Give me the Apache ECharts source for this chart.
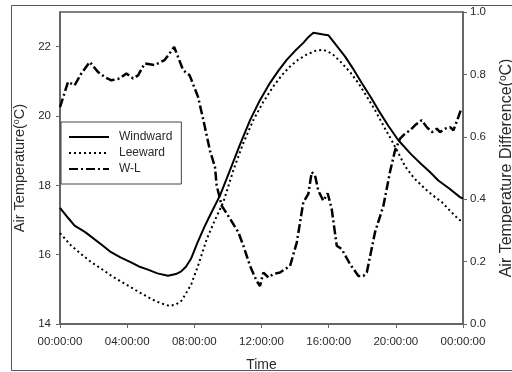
<!DOCTYPE html>
<html>
<head>
<meta charset="utf-8">
<script src="https://cdn.jsdelivr.net/npm/echarts@6/dist/echarts.min.js"></script>
<style>
  html, body { margin: 0; padding: 0; background: #fff; }
  #chart { width: 512px; height: 372px; }
</style>
</head>
<body>
<div id="chart"></div>
<script>
// hours since midnight, temperature in °C
const windwardHours = [0, 0.5, 0.87, 1.5, 1.85, 2.5, 3.04, 3.6, 4.23, 4.7, 5.24, 5.8, 6.43, 6.9, 7.2, 7.5, 7.8, 8.2, 8.6, 8.93, 9.53, 10.12, 10.7, 11.32, 11.9, 12.5, 13.0, 13.5, 14.0, 14.49, 14.8, 15.09, 15.35, 15.68, 15.98, 16.4, 16.97, 17.5, 17.97, 18.5, 18.96, 19.55, 20.15, 20.9, 21.54, 22.0, 22.53, 23.2, 23.82, 24];
const windwardTemp = [17.35, 17.05, 16.84, 16.65, 16.52, 16.28, 16.07, 15.92, 15.78, 15.66, 15.57, 15.46, 15.39, 15.44, 15.51, 15.65, 15.88, 16.36, 16.8, 17.13, 17.71, 18.43, 19.15, 19.88, 20.45, 20.95, 21.3, 21.62, 21.88, 22.11, 22.28, 22.4, 22.38, 22.35, 22.33, 22.07, 21.72, 21.33, 20.95, 20.55, 20.17, 19.72, 19.3, 18.9, 18.6, 18.4, 18.14, 17.9, 17.66, 17.62];

const leewardHours = [0, 0.67, 1.25, 1.87, 2.5, 3.06, 3.65, 4.25, 4.85, 5.44, 6.0, 6.53, 6.9, 7.23, 7.5, 7.82, 8.22, 8.74, 9.23, 9.73, 10.32, 10.9, 11.51, 12.1, 12.7, 13.2, 13.7, 14.2, 14.69, 15.2, 15.68, 16.2, 16.78, 17.3, 17.77, 18.25, 18.76, 19.25, 19.75, 20.15, 20.55, 21.1, 21.74, 22.23, 22.73, 23.2, 23.72, 24];
const leewardTemp = [16.62, 16.26, 16.02, 15.78, 15.58, 15.39, 15.22, 15.05, 14.88, 14.72, 14.6, 14.52, 14.56, 14.67, 14.88, 15.15, 15.68, 16.45, 17.0, 17.52, 18.43, 19.2, 19.88, 20.4, 20.85, 21.17, 21.43, 21.63, 21.77, 21.88, 21.91, 21.8, 21.53, 21.25, 20.95, 20.58, 20.17, 19.73, 19.3, 18.93, 18.55, 18.2, 17.9, 17.7, 17.52, 17.28, 17.03, 16.93];

// windward minus leeward, right axis
const diffHours = [0, 0.48, 0.87, 1.27, 1.77, 2.26, 2.7, 3.06, 3.55, 3.95, 4.35, 4.65, 5.04, 5.64, 6.23, 6.5, 6.8, 7.03, 7.33, 7.72, 8.22, 8.54, 8.93, 9.23, 9.33, 9.63, 10.13, 10.62, 10.92, 11.32, 11.71, 11.91, 12.11, 12.41, 12.7, 13.1, 13.7, 14.1, 14.49, 14.79, 14.99, 15.19, 15.38, 15.68, 15.94, 16.18, 16.48, 16.78, 17.27, 17.77, 18.07, 18.27, 18.76, 19.26, 19.65, 19.95, 20.25, 20.55, 20.85, 21.14, 21.54, 21.84, 22.14, 22.44, 22.63, 22.93, 23.23, 23.43, 23.72, 23.9];
const diffTemp = [0.695, 0.776, 0.765, 0.803, 0.84, 0.808, 0.79, 0.781, 0.787, 0.803, 0.787, 0.797, 0.835, 0.83, 0.846, 0.865, 0.888, 0.856, 0.814, 0.797, 0.728, 0.653, 0.556, 0.503, 0.444, 0.379, 0.337, 0.294, 0.251, 0.186, 0.138, 0.122, 0.165, 0.149, 0.16, 0.165, 0.186, 0.261, 0.39, 0.417, 0.487, 0.476, 0.428, 0.395, 0.419, 0.369, 0.251, 0.24, 0.192, 0.154, 0.154, 0.165, 0.294, 0.379, 0.487, 0.556, 0.594, 0.61, 0.621, 0.637, 0.653, 0.631, 0.615, 0.626, 0.615, 0.626, 0.631, 0.621, 0.663, 0.69];

const timeLabels = ['00:00:00', '04:00:00', '08:00:00', '12:00:00', '16:00:00', '20:00:00', '00:00:00'];

const zip = (xs, ys) => xs.map((x, i) => [x, ys[i]]);

const font = '"Liberation Sans", Arial, sans-serif';
const axisGray = '#666';
const textColor = '#2a2a2a';

const chart = echarts.init(document.getElementById('chart'));

chart.setOption({
  animation: false,
  textStyle: { fontFamily: font },
  graphic: [{
    type: 'rect',
    shape: { x: 11.5, y: 5.5, width: 510, height: 365 },
    style: { fill: 'none', stroke: '#555', lineWidth: 1 },
    silent: true
  }],
  grid: {
    left: 60, top: 12, right: 49, bottom: 48,
    outerBoundsMode: 'none', containLabel: false,
    show: true, borderColor: '#000', borderWidth: 1
  },
  legend: {
    left: 61, top: 122, orient: 'vertical',
    padding: [9, 9, 9, 7],
    itemWidth: 40, itemHeight: 12, itemGap: 4,
    borderColor: '#444', borderWidth: 1,
    itemStyle: { opacity: 0 },
    textStyle: { fontSize: 12, color: textColor, padding: [0, 0, 0, 5] },
    data: ['Windward', 'Leeward', 'W-L']
  },
  xAxis: {
    type: 'value', min: 0, max: 24, interval: 4,
    name: 'Time', nameLocation: 'middle', nameGap: 34,
    nameTextStyle: { fontSize: 14, color: textColor },
    axisLine: { lineStyle: { color: axisGray, width: 2 } },
    axisTick: { length: 4, lineStyle: { color: axisGray } },
    axisLabel: { fontSize: 11.5, color: textColor, margin: 12, formatter: v => timeLabels[v / 4] },
    splitLine: { show: false }
  },
  yAxis: [{
    type: 'value', min: 14, max: 23, interval: 2,
    name: 'Air Temperature({sup|o}C)', nameLocation: 'middle', nameGap: 31, nameRotate: 90,
    nameTextStyle: { fontSize: 14.5, color: textColor, rich: { sup: { fontSize: 9, padding: [0, 0, 7, 0] } } },
    axisLine: { show: true, lineStyle: { color: axisGray, width: 2 } },
    axisTick: { length: 4, lineStyle: { color: axisGray } },
    axisLabel: { fontSize: 11.5, color: textColor, margin: 9, showMaxLabel: false },
    splitLine: { show: false }
  }, {
    type: 'value', min: 0, max: 1, interval: 0.2,
    name: 'Air Temperature Difference({sup|o}C)', nameLocation: 'middle', nameGap: 35, nameRotate: 90,
    nameTextStyle: { fontSize: 16, color: textColor, rich: { sup: { fontSize: 10, padding: [0, 0, 8, 0] } } },
    axisLine: { show: true, lineStyle: { color: axisGray, width: 2 } },
    axisTick: { length: 4, lineStyle: { color: axisGray } },
    axisLabel: { fontSize: 11.5, color: textColor, margin: 7, formatter: v => v.toFixed(1) },
    splitLine: { show: false }
  }],
  series: [{
    name: 'Windward', type: 'line', yAxisIndex: 0, showSymbol: false, symbol: 'none',
    itemStyle: { color: '#000' },
    lineStyle: { color: '#000', width: 2 },
    data: zip(windwardHours, windwardTemp)
  }, {
    name: 'Leeward', type: 'line', yAxisIndex: 0, showSymbol: false, symbol: 'none',
    itemStyle: { color: '#000' },
    lineStyle: { color: '#000', width: 2, type: [2, 3] },
    data: zip(leewardHours, leewardTemp)
  }, {
    name: 'W-L', type: 'line', yAxisIndex: 1, showSymbol: false, symbol: 'none',
    itemStyle: { color: '#000' },
    lineStyle: { color: '#000', width: 2.5, type: [9, 3, 2, 3] },
    data: zip(diffHours, diffTemp)
  }]
});
</script>
</body>
</html>
